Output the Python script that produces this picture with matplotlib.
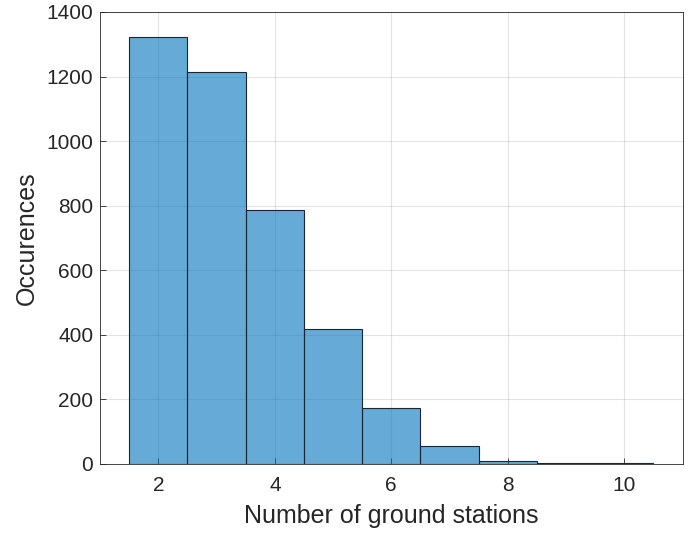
import matplotlib
matplotlib.use("Agg")
import matplotlib.pyplot as plt

stations = [2, 3, 4, 5, 6, 7, 8, 9, 10]
counts = [1322, 1215, 787, 418, 173, 55, 8, 4, 2]

plt.rcParams["font.family"] = ["Liberation Sans", "DejaVu Sans"]

fig = plt.figure(figsize=(7.0, 5.33), dpi=100)
ax = fig.add_axes([0.143, 0.1295, 0.832, 0.848])

ax.bar(stations, counts, width=1.0, align="center",
       color=(0.0, 0.447, 0.741), alpha=0.6, edgecolor="none", zorder=2)
ax.bar(stations, counts, width=1.0, align="center",
       facecolor="none", edgecolor=(0.1, 0.15, 0.2), linewidth=0.8, zorder=3)

ax.set_xlim(1, 11)
ax.set_ylim(0, 1400)
ax.set_xticks([2, 4, 6, 8, 10])
ax.set_yticks(range(0, 1401, 200))
ax.grid(True, color="0.15", alpha=0.12, linewidth=0.8, zorder=0)
ax.set_axisbelow(True)
ax.tick_params(direction="in", labelsize=15, colors="0.15", length=4, width=0.6)
ax.tick_params(axis="x", pad=9)
ax.tick_params(axis="y", pad=5)
for s in ax.spines.values():
    s.set_color("0.15")
    s.set_linewidth(0.6)

ax.set_xlabel("Number of ground stations", fontsize=18, color="0.15", labelpad=6)
ax.set_ylabel("Occurences", fontsize=18, color="0.15", labelpad=5)

fig.savefig("out.png", dpi=100)
